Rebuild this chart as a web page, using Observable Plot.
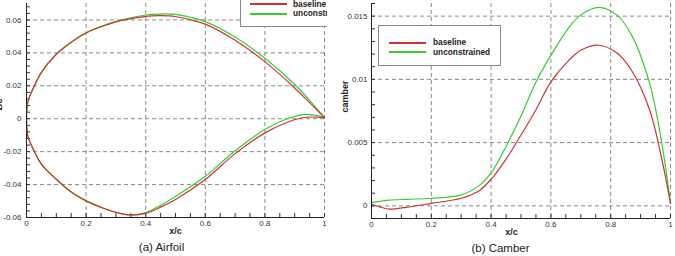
<!DOCTYPE html>
<html><head><meta charset="utf-8">
<script src="https://cdn.jsdelivr.net/npm/d3@7"></script>
<script src="https://cdn.jsdelivr.net/npm/@observablehq/plot@0.6"></script>
<style>
html,body{margin:0;padding:0;background:#fff;}
#fig{position:relative;width:675px;height:256px;overflow:hidden;font-family:"Liberation Sans",Arial,Helvetica,sans-serif;}
#left{position:absolute;left:0;top:0;width:327px;height:256px;overflow:hidden;}
#right{position:absolute;left:335px;top:0;width:340px;height:256px;overflow:hidden;}
#fig svg{max-width:none !important;width:340px;height:256px;display:block;}
.box{position:absolute;background:#fff;border:1px solid #8a8a8a;box-sizing:border-box;}
.sw{position:absolute;height:1.5px;}
.lt{position:absolute;font-size:8.3px;font-weight:bold;color:#222;line-height:10px;white-space:nowrap;}
</style></head>
<body>
<div id="fig"><div id="left"></div><div id="right"></div></div>
<script>
// ---- data ----
const seriesNames = ["baseline", "unconstrained"];
const seriesColors = ["#cc3333", "#33cc33"];

// (a) Airfoil: upper / lower surfaces, x/c stations and z/c values
const upX = [0, 0.0015, 0.006, 0.015, 0.05, 0.1, 0.15, 0.2, 0.26, 0.32, 0.4, 0.45, 0.5, 0.55, 0.6, 0.7, 0.8, 0.9, 0.95, 1.0];
const upBase = [0, 0.0065, 0.0115, 0.0155, 0.0282, 0.0392, 0.0464, 0.0521, 0.0565, 0.0597, 0.0622, 0.0626, 0.0621, 0.0601, 0.0575, 0.0477, 0.0347, 0.0187, 0.0098, 0.0006];
const upUnc  = [0, 0.0065, 0.0115, 0.0155, 0.0282, 0.0392, 0.0465, 0.0522, 0.0567, 0.0601, 0.0630, 0.0636, 0.0634, 0.0616, 0.0590, 0.0496, 0.0367, 0.0208, 0.0112, 0.0006];
const loX = [0, 0.0015, 0.006, 0.015, 0.05, 0.1, 0.15, 0.2, 0.26, 0.32, 0.35, 0.4, 0.45, 0.5, 0.6, 0.7, 0.8, 0.88, 0.94, 1.0];
const loBase = [0, -0.0065, -0.0115, -0.0155, -0.0276, -0.0368, -0.0445, -0.0499, -0.0545, -0.0578, -0.0586, -0.0575, -0.0537, -0.0490, -0.0369, -0.0212, -0.0086, -0.0018, 0.0009, 0.0006];
const loUnc  = [0, -0.0065, -0.0115, -0.0155, -0.0276, -0.0368, -0.0445, -0.0499, -0.0545, -0.0577, -0.0584, -0.0570, -0.0525, -0.0472, -0.0350, -0.0195, -0.0066, 0.0003, 0.0026, 0.0006];

// (b) Camber
const camX = [0, 0.03, 0.06, 0.12, 0.2, 0.3, 0.36, 0.4, 0.45, 0.5, 0.55, 0.6, 0.66, 0.7, 0.76, 0.82, 0.87, 0.93, 0.97, 1.0];
const camBase = [0.00013, -0.0001, -0.00026, -0.0001, 0.0002, 0.0006, 0.0012, 0.0021, 0.0037, 0.0056, 0.0076, 0.0098, 0.0115, 0.0123, 0.0127, 0.0121, 0.0107, 0.0076, 0.0038, 0.0002];
const camUnc  = [0.00026, 0.00036, 0.00045, 0.00052, 0.0006, 0.00087, 0.0016, 0.0026, 0.0047, 0.0071, 0.0098, 0.0119, 0.0141, 0.0151, 0.0157, 0.0151, 0.0135, 0.0097, 0.0051, 0.0002];

// tick labels
const xTicks = [0, 0.2, 0.4, 0.6, 0.8, 1];
const yTicksA = [-0.06, -0.04, -0.02, 0, 0.02, 0.04, 0.06];
const yTicksB = [0, 0.005, 0.01, 0.015];

// ---- build tables ----
function airfoil(name, ux, uy, lx, ly) {
  const rows = [];
  for (let i = ux.length - 1; i >= 0; i--) rows.push({x: ux[i], y: uy[i], s: name});
  for (let i = 1; i < lx.length; i++) rows.push({x: lx[i], y: ly[i], s: name});
  return rows;
}
const airRows = [
  ...airfoil("unconstrained", upX, upUnc, loX, loUnc),
  ...airfoil("baseline", upX, upBase, loX, loBase)
];
const camRows = [
  ...camX.map((x, i) => ({x, y: camUnc[i], s: "unconstrained"})),
  ...camX.map((x, i) => ({x, y: camBase[i], s: "baseline"}))
];

const font = '"Liberation Sans", Arial, Helvetica, sans-serif';
const grid = {stroke: "#8a8a8a", strokeOpacity: 1, strokeWidth: 1, strokeDasharray: "4,3"};

function panel(o) {
  const W = o.width - o.ml - o.mr, H = o.height - o.mt - o.mb;
  const xMinor = d3.range(0, 1.0001, 0.05);
  const yMinor = d3.range(o.yDomain[0], o.yDomain[1] + 1e-9, o.yMinorStep);
  return Plot.plot({
    width: o.width, height: o.height,
    marginLeft: o.ml, marginRight: o.mr, marginTop: o.mt, marginBottom: o.mb,
    style: {fontFamily: font, background: "#fff", maxWidth: "none"},
    x: {domain: [0, 1], label: null},
    y: {domain: o.yDomain, label: null},
    color: {domain: seriesNames, range: seriesColors},
    marks: [
      Plot.gridX(xTicks, grid),
      Plot.gridY(o.yTicks, grid),
      Plot.ruleX(xMinor, {stroke: "#333", insetTop: H - 4}),
      Plot.ruleY(yMinor, {stroke: "#333", insetRight: W - 4}),
      Plot.line(o.rows, {x: "x", y: "y", z: "s", stroke: "s", strokeWidth: 1.2, curve: "catmull-rom"}),
      Plot.ruleX([0], {stroke: "#222"}),
      Plot.ruleY([o.yDomain[0]], {stroke: "#222"}),
      Plot.axisX({ticks: xTicks, tickSize: 0, tickPadding: 3, tickFormat: d => String(d), fontSize: 8, fill: "#333", label: null}),
      Plot.axisY({ticks: o.yTicks, tickSize: 0, tickPadding: o.ypad, tickFormat: d => String(d), fontSize: 8, fill: "#333", label: null}),
      Plot.text(["x/c"], {text: d => d, frameAnchor: "bottom", dy: 16, dx: o.xlDx, fontSize: 9, fontWeight: "bold", fill: "#222"}),
      Plot.text([o.yLabel], {text: d => d, frameAnchor: "left", dx: o.ylDx, dy: o.ylDy, rotate: -90, fontSize: 9, fontWeight: "bold", fill: "#222"}),
      Plot.text([o.caption], {text: d => d, frameAnchor: "bottom", dy: 33, dx: o.capDx, fontSize: 11.5, fill: "#222"})
    ]
  });
}

document.getElementById("left").append(panel({
  width: 340, height: 256, ml: 26, mr: 16, mt: 3, mb: 39,
  yDomain: [-0.06, 0.07], yTicks: yTicksA, yMinorStep: 0.004, ypad: 5,
  rows: airRows, yLabel: "z/c", ylDx: -27, ylDy: 0, xlDx: 0, caption: "(a) Airfoil", capDx: -14
}));
document.getElementById("right").append(panel({
  width: 340, height: 256, ml: 36, mr: 5, mt: 3, mb: 38,
  yDomain: [-0.001, 0.016], yTicks: yTicksB, yMinorStep: 0.001, ypad: 4,
  rows: camRows, yLabel: "camber", ylDx: -26, ylDy: 1.5, xlDx: -9.5, caption: "(b) Camber", capDx: -20.5
}));

// ---- legends ----
function legend(parent, box, lineX, lineW, textX, ys) {
  const b = document.createElement("div");
  b.className = "box";
  Object.assign(b.style, {left: box[0] + "px", top: box[1] + "px", width: box[2] + "px", height: box[3] + "px"});
  parent.append(b);
  seriesNames.forEach((n, i) => {
    const l = document.createElement("div");
    l.className = "sw";
    Object.assign(l.style, {left: lineX + "px", top: Math.round(ys[i] - 0.7) + "px", width: lineW + "px", background: seriesColors[i]});
    parent.append(l);
    const t = document.createElement("div");
    t.className = "lt";
    t.textContent = n;
    Object.assign(t.style, {left: textX + "px", top: (ys[i] - 5.5) + "px"});
    parent.append(t);
  });
}
legend(document.getElementById("left"), [240, -12, 130, 39], 250, 37, 293, [4, 13.3]);
legend(document.getElementById("right"), [43, 25, 123, 41], 54, 37, 98, [42.7, 52]);
</script>
</body></html>
